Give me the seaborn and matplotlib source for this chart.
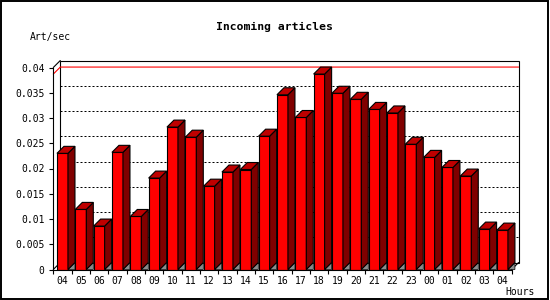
import matplotlib
matplotlib.use("Agg")
import matplotlib.pyplot as plt
import seaborn as sns
import numpy as np
import pandas as pd
from matplotlib.patches import Polygon, Rectangle
from matplotlib.lines import Line2D
from matplotlib.transforms import IdentityTransform

# ---- data ----
hours = ["04", "05", "06", "07", "08", "09", "10", "11", "12", "13", "14", "15",
         "16", "17", "18", "19", "20", "21", "22", "23", "00", "01", "02", "03", "04"]
rates = [0.0230, 0.0119, 0.0086, 0.0232, 0.0105, 0.0181, 0.0282, 0.0262, 0.0165,
         0.0193, 0.0198, 0.0264, 0.0346, 0.0301, 0.0387, 0.0349, 0.0337, 0.0317,
         0.0310, 0.0248, 0.0222, 0.0202, 0.0185, 0.0080, 0.0078]
y_ticks = [0, 0.005, 0.01, 0.015, 0.02, 0.025, 0.03, 0.035, 0.04]
y_tick_labels = ["0", "0.005", "0.01", "0.015", "0.02", "0.025", "0.03", "0.035", "0.04"]
title = "Incoming articles"
y_title = "Art/sec"
x_title = "Hours"

sns.set_theme(style="white")
plt.rcParams["font.family"] = ["DejaVu Sans Mono", "DejaVu Sans"]

W, H = 550, 300
fig = plt.figure(figsize=(5.5, 3), dpi=100)
fig.patch.set_facecolor("white")
ax = fig.add_axes([53.3 / W, 30.5 / H, 458.3 / W, 202 / H])
ax.patch.set_visible(False)

df = pd.DataFrame({"slot": list(range(len(hours))), "rate": rates})
sns.barplot(data=df, x="slot", y="rate", color="#FF0000", saturation=1,
            width=0.6, edgecolor="black", linewidth=0.8, errorbar=None,
            ax=ax, zorder=3)

ax.set_xlim(-0.5, len(hours) - 0.5)
ax.set_ylim(0, 0.04)
ax.set_xlabel("")
ax.set_ylabel("")

D = 7.0  # depth offset in pixels
ident = IdentityTransform()


def disp(x, y):
    return np.array(ax.transData.transform((x, y)))


off = np.array([D, D])

# back plane
bl = disp(-0.5, 0) + off
tr = disp(len(hours) - 0.5, 0.04) + off
ax.add_patch(Rectangle(bl, tr[0] - bl[0], tr[1] - bl[1], transform=ident,
                       fc="white", ec="black", lw=0.8, zorder=0.5, clip_on=False))

# gridlines on back plane
for v in y_ticks[1:-1]:
    a = disp(-0.5, v) + off
    b = disp(len(hours) - 0.5, v) + off
    ax.add_line(Line2D([a[0], b[0]], [a[1], b[1]], transform=ident, color="black",
                       lw=0.72, dashes=(2, 2), zorder=1, clip_on=False))

# max line
vmax = max(rates)
a0 = disp(-0.5, vmax)
a = a0 + off
b = disp(len(hours) - 0.5, vmax) + off
ax.add_line(Line2D([a0[0], a[0], b[0]], [a0[1], a[1], b[1]], transform=ident,
                   color="#FF0000", lw=0.8, zorder=1.5, clip_on=False))

# depth edges of the axes box
for (x, y) in [(-0.5, 0.04), (-0.5, 0), (len(hours) - 0.5, 0)]:
    p = disp(x, y)
    q = p + off
    ax.add_line(Line2D([p[0], q[0]], [p[1], q[1]], transform=ident, color="black",
                       lw=0.8, zorder=1.2, clip_on=False))

# 3D faces of bars
for p in list(ax.patches):
    if not hasattr(p, "get_height") or p.get_zorder() != 3:
        continue
    x0 = p.get_x()
    x1 = x0 + p.get_width()
    v = p.get_height()
    fl = disp(x0, v)
    fr = disp(x1, v)
    br = disp(x1, 0)
    side = [fr, fr + off, br + off, br]
    top = [fl, fl + off, fr + off, fr]
    gray = [br, br + off, np.array([br[0] + D, br[1]])]
    ax.add_patch(Polygon(gray, closed=True, transform=ident, fc="#8C8C8C",
                         ec="black", lw=0.5, zorder=3.1, clip_on=False))
    ax.add_patch(Polygon(side, closed=True, transform=ident, fc="#800000",
                         ec="black", lw=0.8, zorder=3.2, clip_on=False))
    ax.add_patch(Polygon(top, closed=True, transform=ident, fc="#BF0000",
                         ec="black", lw=0.8, zorder=3.2, clip_on=False))

# spines
for s in ["top", "right"]:
    ax.spines[s].set_visible(False)
for s in ["left", "bottom"]:
    ax.spines[s].set_color("black")
    ax.spines[s].set_linewidth(0.8)
    ax.spines[s].set_zorder(4)

ax.set_yticks(y_ticks)
ax.set_yticklabels(y_tick_labels)
ax.set_xticks(range(len(hours)))
ax.set_xticklabels(hours)
ax.set_xticks(np.arange(-0.5, len(hours), 1.0), minor=True)
ax.tick_params(axis="y", left=True, direction="out", length=2.9, width=0.8,
               pad=3.4, labelsize=7, colors="black")
ax.tick_params(axis="x", which="major", bottom=True, length=0, pad=4.5,
               labelsize=7, colors="black")
ax.tick_params(axis="x", which="minor", bottom=True, direction="out",
               length=3, width=0.8, color="black")

fig.text(274 / W, 1 - 26.7 / H, title, ha="center", va="center",
         fontsize=8.2, fontweight="bold", color="black")
fig.text(30 / W, 1 - 36.7 / H, y_title, ha="left", va="center", fontsize=7,
         color="black")
fig.text(505 / W, 1 - 292 / H, x_title, ha="left", va="center", fontsize=7,
         color="black")

fig.add_artist(Rectangle((0.7 / W, 1.5 / H), 547.5 / W, 297.5 / H,
                         transform=fig.transFigure, fill=False, ec="black",
                         lw=1.4))

fig.savefig("out.png", dpi=100)
